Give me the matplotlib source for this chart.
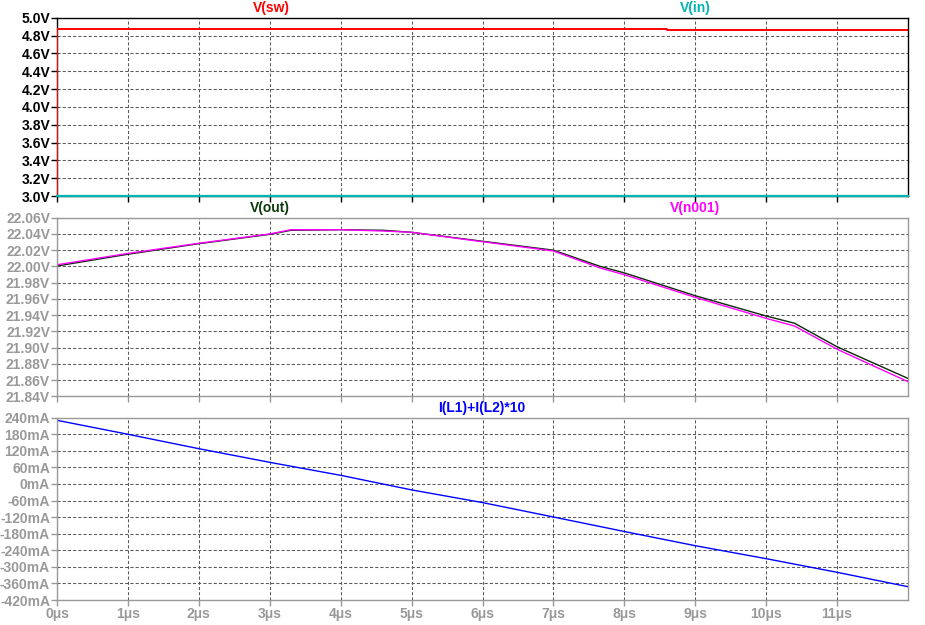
import numpy as np
import matplotlib
matplotlib.use("Agg")
import matplotlib.pyplot as plt
from matplotlib.ticker import FuncFormatter

# --- data (time in us) ---
t_sw = [0.0, 0.0, 8.6, 8.6, 12.0]
v_sw = [0.0, 4.872, 4.872, 4.861, 4.861]
t_in = [0.0, 12.0]
v_in = [3.0, 3.0]

t_out = [0.0, 1.0, 2.0, 3.0, 3.3, 4.0, 4.6, 5.0, 6.0, 7.0, 7.66, 8.0, 9.0, 10.0, 10.4, 11.0, 12.0]
v_out = [22.0005, 22.015, 22.028, 22.0395, 22.0445, 22.0452, 22.0445, 22.042, 22.031, 22.020,
         22.0, 21.992, 21.9639, 21.9389, 21.930, 21.901, 21.862]
t_n001 = [0.0, 1.0, 2.0, 3.0, 3.3, 4.0, 4.6, 5.0, 6.0, 7.0, 7.66, 8.0, 9.0, 10.0, 10.4, 11.0, 12.0]
v_n001 = [22.002, 22.016, 22.0285, 22.040, 22.0452, 22.0452, 22.0436, 22.042, 22.0304, 22.019,
          21.998, 21.9898, 21.9619, 21.936, 21.9266, 21.898, 21.858]

t_il = [0.0, 1.0, 2.0, 3.0, 3.15, 4.0, 5.0, 6.0, 7.0, 8.0, 9.0, 10.0, 11.0, 12.0]
i_il = [230.6, 180.0, 127.8, 78.5, 71.3, 31.4, -21.4, -67.3, -119.5, -172.0, -223.4,
        -270.4, -319.7, -371.9]

x_ticks = list(range(0, 12))
y1_ticks = np.arange(3.0, 5.01, 0.2)
y2_ticks = np.arange(21.84, 22.061, 0.02)
y3_ticks = np.arange(-420, 241, 60)

plt.rcParams['font.family'] = ['Liberation Sans', 'DejaVu Sans']

fig = plt.figure(figsize=(9.25, 6.25), dpi=100)
W, H = 925.0, 625.0


def pane(top, bottom):
    return fig.add_axes([57 / W, 1 - bottom / H, (908 - 57) / W, (bottom - top) / H])


ax1 = pane(17.7, 196.0)
ax2 = pane(217.7, 396.3)
ax3 = pane(417.7, 600.0)

grid_kw = dict(color='#5a5a5a', linestyle=(0, (3, 2)), linewidth=0.75)

for ax, col in [(ax1, 'black'), (ax2, '#999999'), (ax3, '#999999')]:
    ax.set_xlim(0, 12.0)
    ax.set_xticks(x_ticks)
    ax.grid(True, **grid_kw)
    for s in ax.spines.values():
        s.set_color(col)
        s.set_linewidth(1.0)
    ax.tick_params(axis='both', colors=col, length=4, width=1.0, labelsize=10,
                   labelcolor=col, pad=1)

# top pane
ax1.plot(t_sw, v_sw, color='#ff0000', lw=1.4, zorder=3)
ax1.plot(t_in, v_in, color='#00b4b4', lw=1.6, clip_on=False, zorder=4)
ax1.set_ylim(3.0, 5.0)
ax1.set_yticks(y1_ticks)
ax1.yaxis.set_major_formatter(FuncFormatter(lambda v, p: f"{v:.1f}V"))
ax1.tick_params(axis='x', labelbottom=False)

# middle pane
ax2.plot(t_out, v_out, color='#0a2a0a', lw=1.0)
ax2.plot(t_n001, v_n001, color='#ff00ff', lw=1.0)
ax2.set_ylim(21.84, 22.06)
ax2.set_yticks(y2_ticks)
ax2.yaxis.set_major_formatter(FuncFormatter(lambda v, p: f"{v:.2f}V"))
ax2.tick_params(axis='x', labelbottom=False)

# bottom pane
ax3.plot(t_il, i_il, color='#0000ff', lw=1.0)
ax3.set_ylim(-420, 240)
ax3.set_yticks(y3_ticks)
ax3.yaxis.set_major_formatter(FuncFormatter(lambda v, p: f"{v:.0f}mA"))
ax3.xaxis.set_major_formatter(FuncFormatter(lambda v, p: f"{v:.0f}\u03bcs"))

for ax in (ax1, ax2, ax3):
    for lbl in ax.get_yticklabels() + ax.get_xticklabels():
        lbl.set_fontweight('bold')


# trace names
def label(x, y, text, color):
    fig.text(x / W, 1 - y / H, text, color=color, fontsize=10, fontweight='bold',
             ha='center', va='center')


label(271, 8, "V(sw)", '#ff0000')
label(695, 8, "V(in)", '#00b4b4')
label(270, 208, "V(out)", '#0a3a0a')
label(695, 208, "V(n001)", '#ff00ff')
label(482, 408, "I(L1)+I(L2)*10", '#0000ff')

fig.savefig("out.png", dpi=100)
